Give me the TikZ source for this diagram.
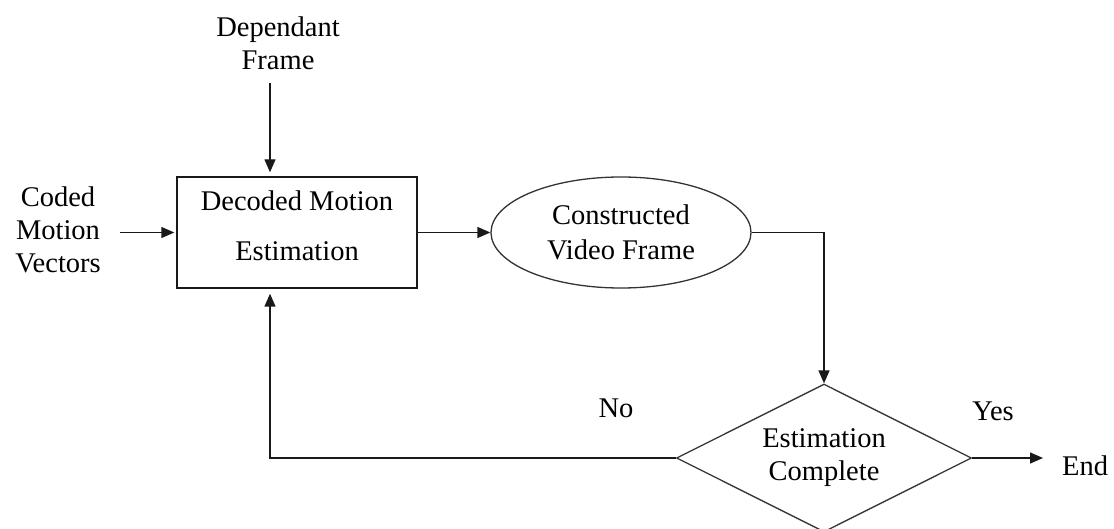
\documentclass[tikz,border=0pt]{standalone}
\usepackage{fontspec}
\setmainfont{Liberation Serif}
\usetikzlibrary{arrows.meta,shapes.geometric,calc}

\begin{document}
\begin{tikzpicture}[x=1pt,y=-1pt,
  every node/.style={font=\fontsize{28.5}{33}\selectfont, align=center, inner sep=0pt},
  flowline/.style={line width=1.4pt, draw=black!90},
  arr/.style={flowline, -{Triangle[length=13pt,width=11pt]}},
  procbox/.style={draw=black!90, line width=1.4pt, rectangle, minimum width=240pt, minimum height=111pt},
  outcome/.style={draw=black!80, line width=1.3pt, ellipse, minimum width=260pt, minimum height=111pt},
  decision/.style={draw=black!80, line width=1.3pt, diamond, aspect=2, minimum width=295pt, minimum height=148pt},
  plain/.style={anchor=base}
]
\useasboundingbox (0,0) rectangle (1114,529);

% inputs
\node (dep) at (278,43) {Dependant\\Frame};
\node (coded) at (58,229.5) {Coded\\Motion\\Vectors};

% main blocks
\node[procbox, text depth=14pt] (box) at (297,232.5) {Decoded Motion\\[17pt]Estimation};
\node[outcome, font=\fontsize{28.5}{35}\selectfont] (ell) at (621,232.5) {Constructed\\Video Frame};
\node[decision] (dia) at (824,458) {Estimation\\Complete};

% branch labels
\node[plain] (no) at (616,417) {No};
\node[plain] (yes) at (993,420) {Yes};
\node[plain, anchor=base west] (end) at (1062,475) {End};

% connector end points
\coordinate (topIn) at (270,83);
\coordinate (leftIn) at (120,232.5);
\coordinate (endTip) at (1043,458);

% connectors
\draw[arr, shorten >=4pt] (topIn) -- (topIn |- box.north);
\draw[arr, shorten >=2pt] (leftIn) -- (box.west);
\draw[arr] (box.east) -- (ell.west);
\draw[arr] (ell.east) -| (dia.north);
\draw[arr] (dia.east) -- (endTip);
\draw[arr, shorten >=5pt] (dia.west) -| (topIn |- box.south);
\end{tikzpicture}
\end{document}
